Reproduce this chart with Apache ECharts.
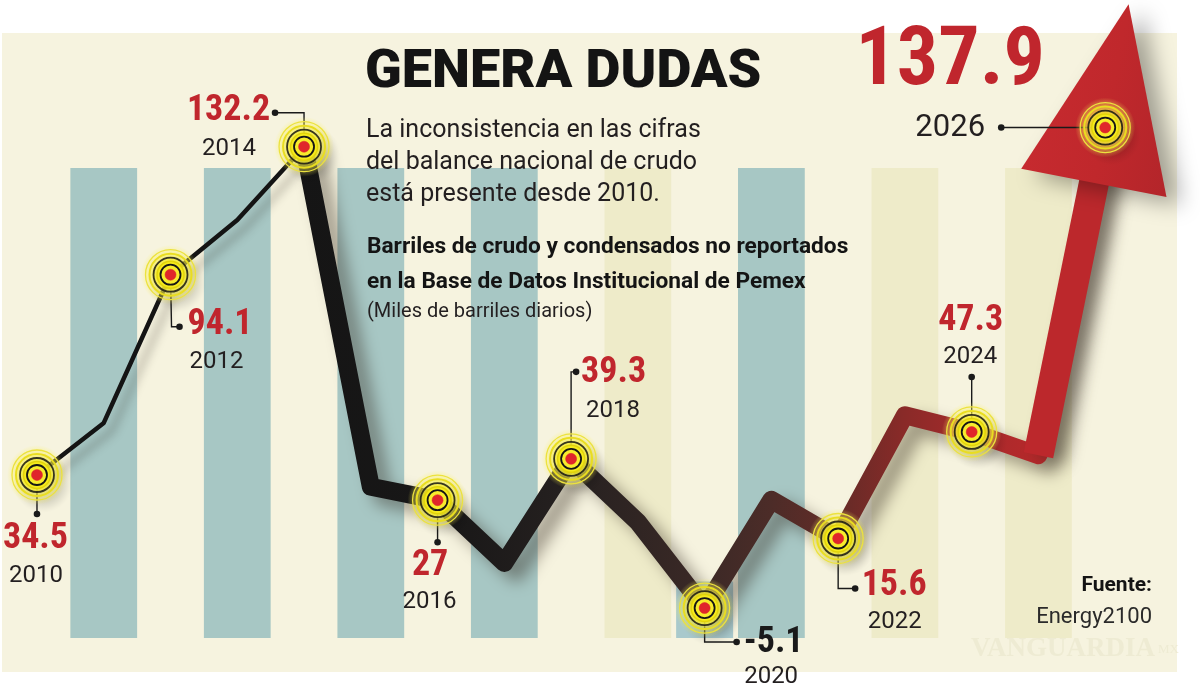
<!DOCTYPE html>
<html><head><meta charset="utf-8">
<script src="https://cdn.jsdelivr.net/npm/echarts@6/dist/echarts.min.js"></script>
<style>html,body{margin:0;padding:0;background:#fff;}#c{width:1200px;height:694px;}</style>
</head><body><div id="c"></div>
<script>
// ---------- data ----------
const years = ['2010','2011','2012','2013','2014','2015','2016','2017','2018','2019','2020','2021','2022','2023','2024','2025','2026'];
const values = [34.5, 50.0, 94.1, 110.4, 132.2, 31.0, 27, 8.3, 39.3, 20.5, -5.1, 27.1, 15.6, 52.3, 47.3, 40.4, 137.9];
const labelledYears = ['2010','2012','2014','2016','2018','2020','2022','2024','2026'];
const valueLabels = ['34.5','94.1','132.2','27','39.3','-5.1','15.6','47.3','137.9'];
const stripeYears = ['2011','2013','2015','2017','2019','2021','2023','2025'];
const highlightYear = '2020';
const thinEndYear = '2014';
const lastSegYear = '2025';

// ---------- styles ----------
const TEAL = '#a7c7c4', PALE = '#eeebc9';
const stripeColors = [TEAL, TEAL, TEAL, TEAL, PALE, TEAL, PALE, PALE];
const RED = '#c0262d';
const NUM_FONT = '"Liberation Sans Narrow", "Roboto Condensed", "DejaVu Sans Condensed", sans-serif';
const TXT_FONT = 'Roboto, "Open Sans", sans-serif';
// label layout relative to data point (px)
const labelLayout = [
  {lead:[[0,0],[0,39]], v:[-1.5,64.5], y:[-1,101], vs:36, ys:24},
  {lead:[[0,0],[1,52],[9,52]], v:[49.5,50.5], y:[46,87], vs:36, ys:24},
  {lead:[[0,0],[0,-34],[-29,-34]], v:[-75.5,-35.5], y:[-75,2], vs:36, ys:24},
  {lead:[[0,0],[0,42]], v:[-7.5,65.5], y:[-8,102], vs:36, ys:24},
  {lead:[[0,0],[0,-87],[5,-87]], v:[42.5,-85.5], y:[42,-48], vs:36, ys:24},
  {lead:[[0,0],[0,34],[32,34]], v:[69,34.5], y:[66.5,69], vs:36, ys:24, black:true},
  {lead:[[0,0],[0,50],[17,50]], v:[56,47.5], y:[56.5,84], vs:36, ys:24},
  {lead:[[0,0],[0,-55]], v:[-1,-111], y:[-1.5,-75], vs:36, ys:24},
  {lead:[[0,0],[-104,0]], v:[-155,-64], y:[-155,0.5], vs:82, ys:31}
];

const idxThin = years.indexOf(thinEndYear);
const idxLast = years.indexOf(lastSegYear);
const thinData = values.map((v,i)=> i<=idxThin ? v : '-');
const thickData = values.map((v,i)=> i>=idxThin ? v : '-');
const lastData = values.map((v,i)=> i>=idxLast ? v : '-');
const keyData = labelledYears.map(y => [y, values[years.indexOf(y)]]);
const arrowData = [[years[years.length-1], values[values.length-1]]];
const stripeData = years.map(y => {
  const k = stripeYears.indexOf(y);
  return k < 0 ? '-' : {value:1, itemStyle:{color:stripeColors[k]}};
});
const highlightData = years.map(y => y === highlightYear ? 0.12 : '-');

function ring(size, style) {
  return {
    type:'scatter', data:keyData, symbol:'circle', symbolSize:size, z:10, clip:false, silent:true,
    itemStyle:Object.assign({opacity:1}, style)
  };
}
const halo = {type:'radial', x:0.5, y:0.5, r:0.5, colorStops:[
  {offset:0, color:'rgba(250,240,70,1)'},{offset:0.55, color:'rgba(250,240,70,0.75)'},
  {offset:0.8, color:'rgba(250,240,90,0.35)'},{offset:1, color:'rgba(250,240,90,0)'}]};

const chart = echarts.init(document.getElementById('c'), null, {renderer:'canvas'});
chart.setOption({
  backgroundColor:'#ffffff',
  animation:false,
  grid:[
    {left:3.6, width:1135, top:120.5, height:537.6, outerBoundsMode:'none'},
    {left:3.6, width:1135, top:168, height:470, outerBoundsMode:'none'},
  ],
  xAxis:[
    {type:'category', data:years, gridIndex:0, show:false, boundaryGap:true},
    {type:'category', data:years, gridIndex:1, show:false, boundaryGap:true},
    {type:'category', data:years, gridIndex:1, show:false, boundaryGap:true},
  ],
  yAxis:[
    {type:'value', min:-20, max:140, gridIndex:0, show:false},
    {type:'value', min:0, max:1, gridIndex:1, show:false},
    {type:'value', min:0, max:1, gridIndex:1, show:false},
  ],
  graphic:[
    {type:'rect', z:-100, shape:{x:2,y:33,width:1175,height:639}, style:{fill:'#f6f3df'}},
    {type:'text', z:100, x:365, y:73, style:{text:'GENERA DUDAS', fontFamily:TXT_FONT, fontWeight:900, fontSize:54, fill:'#141414', verticalAlign:'middle'}},
    {type:'text', z:100, x:366, y:131, style:{text:'La inconsistencia en las cifras', fontFamily:TXT_FONT, fontSize:25, fill:'#231f20', verticalAlign:'middle'}},
    {type:'text', z:100, x:366, y:163, style:{text:'del balance nacional de crudo', fontFamily:TXT_FONT, fontSize:25, fill:'#231f20', verticalAlign:'middle'}},
    {type:'text', z:100, x:366, y:195, style:{text:'está presente desde 2010.', fontFamily:TXT_FONT, fontSize:25, fill:'#231f20', verticalAlign:'middle'}},
    {type:'text', z:100, x:367, y:247, style:{text:'Barriles de crudo y condensados no reportados', fontFamily:TXT_FONT, fontWeight:'bold', fontSize:22.7, fill:'#141414', verticalAlign:'middle'}},
    {type:'text', z:100, x:367, y:282, style:{text:'en la Base de Datos Institucional de Pemex', fontFamily:TXT_FONT, fontWeight:'bold', fontSize:22.7, fill:'#141414', verticalAlign:'middle'}},
    {type:'text', z:100, x:367, y:312, style:{text:'(Miles de barriles diarios)', fontFamily:TXT_FONT, fontSize:20, fill:'#231f20', verticalAlign:'middle'}},
    {type:'text', z:100, x:1152, y:586, style:{text:'Fuente:', fontFamily:TXT_FONT, fontWeight:'bold', fontSize:21, fill:'#141414', align:'right', verticalAlign:'middle'}},
    {type:'text', z:100, x:1152, y:617, style:{text:'Energy2100', fontFamily:TXT_FONT, fontSize:22, fill:'#2a2a2a', align:'right', verticalAlign:'middle'}},
    {type:'text', z:-50, x:1155, y:649, style:{text:'VANGUARDIA', fontFamily:'"Liberation Serif", serif', fontWeight:'bold', fontSize:27, fill:'#eeebd3', align:'right', verticalAlign:'middle'}},
    {type:'text', z:-50, x:1158, y:650, style:{text:'MX', fontFamily:'"Liberation Serif", serif', fontSize:13, fill:'#eeebd3', verticalAlign:'middle'}}
  ],
  series:[
    {type:'bar', xAxisIndex:1, yAxisIndex:1, data:stripeData, barWidth:'100%', z:1, silent:true},
    {type:'bar', xAxisIndex:2, yAxisIndex:2, data:highlightData, barWidth:57, z:1, silent:true, itemStyle:{color:'#a9c9cc'}},
    {type:'line', data:thinData, symbol:'none', z:3, clip:false, silent:true,
      lineStyle:{color:'#141414', width:4.5, join:'round', cap:'round', shadowColor:'rgba(40,35,30,0.35)', shadowBlur:10, shadowOffsetX:8, shadowOffsetY:8}},
    {type:'line', data:thickData, symbol:'none', z:3, clip:false, silent:true,
      lineStyle:{width:18, join:'round', cap:'round', shadowColor:'rgba(50,40,30,0.45)', shadowBlur:16, shadowOffsetX:12, shadowOffsetY:10,
        color:{type:'linear', x:0, y:0, x2:1, y2:0, colorStops:[
          {offset:0, color:'#151515'}, {offset:0.18, color:'#181717'}, {offset:0.34, color:'#262120'},
          {offset:0.5, color:'#3b2926'}, {offset:0.58, color:'#4c2c28'}, {offset:0.665, color:'#652b27'},
          {offset:0.745, color:'#8a2a28'}, {offset:0.83, color:'#a72a2b'}, {offset:0.91, color:'#b8292b'}, {offset:1, color:'#c0282c'}]}}},
    {type:'line', data:lastData, symbol:'none', z:4, clip:false, silent:true,
      lineStyle:{color:'#bc282c', width:30, join:'round', cap:'butt', shadowColor:'rgba(50,40,30,0.4)', shadowBlur:16, shadowOffsetX:12, shadowOffsetY:6}},
    {type:'scatter', data:arrowData, z:5, clip:false, silent:true,
      symbol:'path://M50,0 L100,100 L0,100 Z', symbolSize:[148,182], symbolRotate:-11, symbolOffset:[6,-34],
      itemStyle:{opacity:1, color:{type:'linear', x:0, y:0, x2:1, y2:0, colorStops:[{offset:0, color:'#c62a2f'},{offset:0.5, color:'#c0282c'},{offset:1, color:'#b3252a'}]},
        shadowColor:'rgba(0,0,0,0.35)', shadowBlur:22, shadowOffsetX:14, shadowOffsetY:8}},
    {type:'custom', data:keyData, z:6, clip:false, silent:true,
      renderItem:function(params, api){
        const i = params.dataIndex;
        const p = api.coord([api.value(0), api.value(1)]);
        const L = labelLayout[i];
        const pts = L.lead.map(d => [p[0]+d[0], p[1]+d[1]]);
        const end = pts[pts.length-1];
        return {type:'group', children:[
          {type:'polyline', shape:{points:pts}, style:{stroke:'#1a1a1a', lineWidth:1.4, fill:null}},
          {type:'circle', shape:{cx:end[0], cy:end[1], r:3.3}, style:{fill:'#1a1a1a'}},
          {type:'text', x:p[0]+L.v[0], y:p[1]+L.v[1], style:{text:valueLabels[i], fontFamily:NUM_FONT, fontWeight:'bold', fontSize:L.vs, fill:L.black?'#1a1a1a':RED, align:'center', verticalAlign:'middle'}},
          {type:'text', x:p[0]+L.y[0], y:p[1]+L.y[1], style:{text:labelledYears[i], fontFamily:TXT_FONT, fontSize:L.ys, fill:'#231f20', align:'center', verticalAlign:'middle'}}
        ]};
      }},
    ring(60, {color:halo, shadowColor:'rgba(0,0,0,0.2)', shadowBlur:12, shadowOffsetX:6, shadowOffsetY:8}),
    ring(50, {color:'transparent', borderColor:'#ece23e', borderWidth:1.3}),
    ring(42, {color:'transparent', borderColor:'#e9dd20', borderWidth:2}),
    ring(34, {color:'rgba(246,236,40,0.4)', borderColor:'rgba(20,20,20,0.85)', borderWidth:1.8}),
    ring(27, {color:'#f5ea1e', borderColor:'#e2d40a', borderWidth:1.5}),
    ring(20, {color:'#f7ec2c', borderColor:'#161616', borderWidth:1.8}),
    ring(11, {color:'#e0262b', borderColor:'#d9242a', borderWidth:0.5})
  ]
});
</script></body></html>
